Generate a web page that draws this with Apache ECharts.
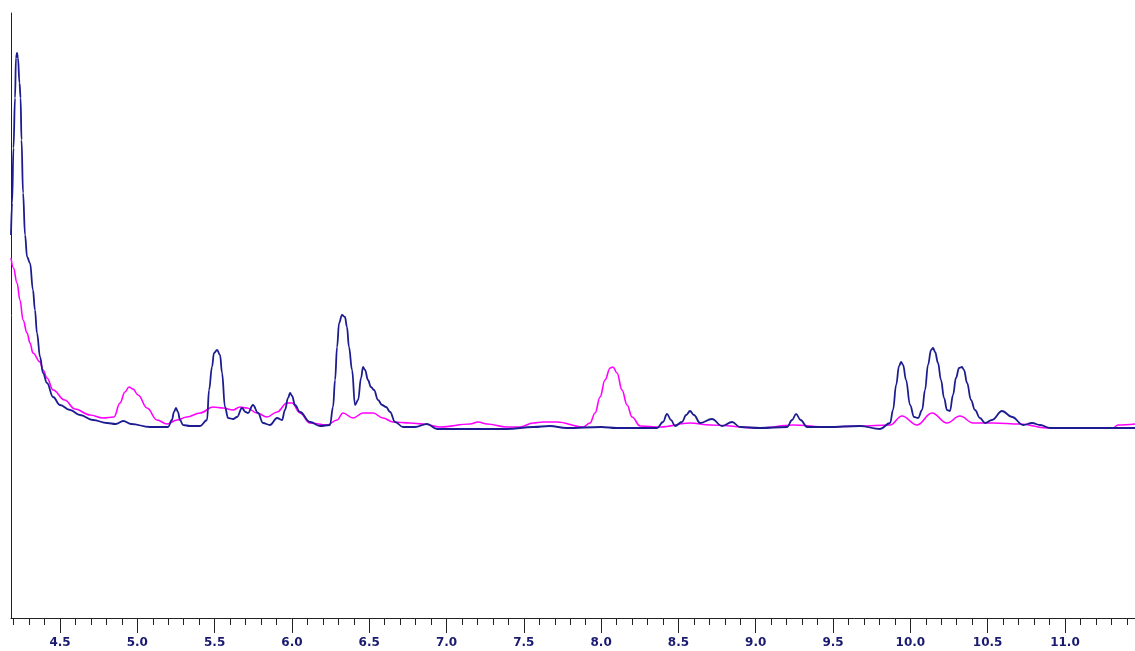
<!DOCTYPE html>
<html>
<head>
<meta charset="utf-8">
<script src="https://cdn.jsdelivr.net/npm/echarts@6/dist/echarts.min.js"></script>
<style>
html,body{margin:0;padding:0;background:#fff;}
#chart{width:1135px;height:651px;}
</style>
</head>
<body>
<div id="chart"></div>
<script>
// Retention time (min) and detector response (arbitrary units)
var blueTime = [4.183,4.190,4.199,4.209,4.215,4.222,4.228,4.238,4.245,4.251,4.261,4.274,4.287,4.306,4.325,4.338,4.351,4.371,4.390,4.416,4.455,4.500,4.565,4.629,4.713,4.804,4.860,4.910,4.960,5.082,5.147,5.199,5.224,5.237,5.250,5.263,5.276,5.296,5.341,5.406,5.451,5.464,5.483,5.496,5.516,5.535,5.548,5.567,5.587,5.620,5.645,5.677,5.700,5.716,5.748,5.781,5.813,5.858,5.904,5.936,5.955,5.975,5.988,6.001,6.020,6.052,6.117,6.182,6.246,6.266,6.279,6.292,6.305,6.324,6.343,6.356,6.369,6.389,6.408,6.428,6.447,6.460,6.473,6.492,6.511,6.531,6.557,6.583,6.609,6.635,6.667,6.719,6.796,6.874,6.939,7.000,7.388,7.563,7.667,7.777,8.000,8.100,8.362,8.400,8.426,8.452,8.478,8.523,8.550,8.575,8.600,8.640,8.717,8.782,8.847,8.898,9.028,9.203,9.235,9.261,9.290,9.332,9.461,9.675,9.804,9.869,9.888,9.908,9.927,9.940,9.953,9.972,9.998,10.024,10.050,10.076,10.095,10.114,10.134,10.147,10.160,10.179,10.198,10.218,10.237,10.256,10.276,10.295,10.315,10.334,10.347,10.367,10.392,10.418,10.450,10.483,10.528,10.593,10.658,10.729,10.787,10.839,10.904,11.453];
var blueValue = [383,415,470,520,560,565,560,535,520,478,425,383,361,355,328,308,285,261,245,235,221,213,208,203,198,195,194,197,194,191,191,191,198,206,210,206,198,193,192,192,198,228,251,265,268,263,245,211,200,199,201,210,206,205,213,205,195,193,200,198,208,220,225,222,213,206,196,192,193,211,238,271,295,303,301,291,271,248,213,218,240,251,248,238,231,228,218,213,211,206,196,191,191,194,189,189,189,191,192,190,191,190,190,196,204,198,192,196,203,207,203,195,199,192,196,191,190,191,198,204,198,191,191,192,189,195,208,233,252,256,253,238,213,201,200,208,228,253,268,270,266,255,238,220,208,207,223,240,250,251,248,235,218,208,200,195,198,207,201,193,195,193,190,190];

var pinkTime = [4.183,4.199,4.222,4.241,4.261,4.287,4.306,4.325,4.371,4.390,4.416,4.455,4.530,4.597,4.694,4.778,4.849,4.888,4.920,4.946,4.972,5.005,5.063,5.127,5.192,5.257,5.321,5.406,5.490,5.554,5.619,5.664,5.710,5.774,5.839,5.904,5.968,6.001,6.052,6.117,6.227,6.292,6.330,6.395,6.460,6.525,6.589,6.654,6.764,6.848,6.958,7.152,7.204,7.262,7.391,7.475,7.560,7.624,7.715,7.883,7.928,7.961,7.993,8.025,8.058,8.077,8.103,8.135,8.168,8.200,8.252,8.381,8.575,8.704,9.028,9.241,9.461,9.675,9.869,9.946,10.043,10.140,10.237,10.321,10.406,10.535,10.710,10.884,11.311,11.343,11.453];
var pinkValue = [360,350,335,318,298,285,275,265,256,248,240,228,218,209,203,200,201,215,226,231,229,223,210,198,194,198,201,205,211,210,208,211,210,205,201,206,215,215,205,195,193,198,205,200,205,205,200,196,195,194,191,194,196,194,191,191,195,196,196,191,195,205,221,238,250,251,245,228,213,201,192,191,195,193,190,193,191,192,193,202,193,205,195,202,195,195,194,190,190,193,194];

var majorTicks = [4.5,5.0,5.5,6.0,6.5,7.0,7.5,8.0,8.5,9.0,9.5,10.0,10.5,11.0];
var minorTicks = [4.2,4.3,4.4,4.5,4.6,4.7,4.8,4.9,5.0,5.1,5.2,5.3,5.4,5.5,5.6,5.7,5.8,5.9,6.0,6.1,6.2,6.3,6.4,6.5,6.6,6.7,6.8,6.9,7.0,7.1,7.2,7.3,7.4,7.5,7.6,7.7,7.8,7.9,8.0,8.1,8.2,8.3,8.4,8.5,8.6,8.7,8.8,8.9,9.0,9.1,9.2,9.3,9.4,9.5,9.6,9.7,9.8,9.9,10.0,10.1,10.2,10.3,10.4,10.5,10.6,10.7,10.8,10.9,11.0,11.1,11.2,11.3,11.4];

function pairs(t, v){ return t.map(function(x,i){ return [x, v[i]]; }); }

var X_MIN = 4.183, X_MAX = 11.453;
var chart = echarts.init(document.getElementById('chart'), null, {renderer:'canvas'});
chart.setOption({
  animation:false,
  backgroundColor:'#ffffff',
  grid:{left:11, right:0, top:13, bottom:33, containLabel:false},
  xAxis:[{
    type:'value', min:X_MIN, max:X_MAX,
    axisLine:{show:true, lineStyle:{color:'#222', width:1}},
    axisTick:{show:true, customValues:majorTicks, length:15, lineStyle:{color:'#222', width:1}},
    axisLabel:{show:true, customValues:majorTicks, margin:19,
      formatter:function(v){ return Number(v).toFixed(1); },
      color:'#1a1a70', fontWeight:'bold', fontSize:12, fontFamily:'DejaVu Sans, Verdana, sans-serif'},
    splitLine:{show:false}
  },{
    type:'value', min:X_MIN, max:X_MAX, position:'bottom',
    axisLine:{show:false},
    axisTick:{show:true, customValues:minorTicks, length:7, lineStyle:{color:'#222', width:1}},
    axisLabel:{show:false},
    splitLine:{show:false}
  }],
  yAxis:{
    type:'value', min:0, max:605,
    axisLine:{show:true, lineStyle:{color:'#222', width:1}},
    axisTick:{show:false}, axisLabel:{show:false}, splitLine:{show:false}
  },
  series:[{
    type:'line', name:'pink', data:pairs(pinkTime, pinkValue),
    showSymbol:false, smooth:0.4, smoothMonotone:'x',
    lineStyle:{color:'#ff00ff', width:1.6}, z:2
  },{
    type:'line', name:'blue', data:pairs(blueTime, blueValue),
    showSymbol:false, smooth:0.4, smoothMonotone:'x',
    lineStyle:{color:'#1c1c90', width:1.8}, z:3
  }]
});
</script>
</body>
</html>
